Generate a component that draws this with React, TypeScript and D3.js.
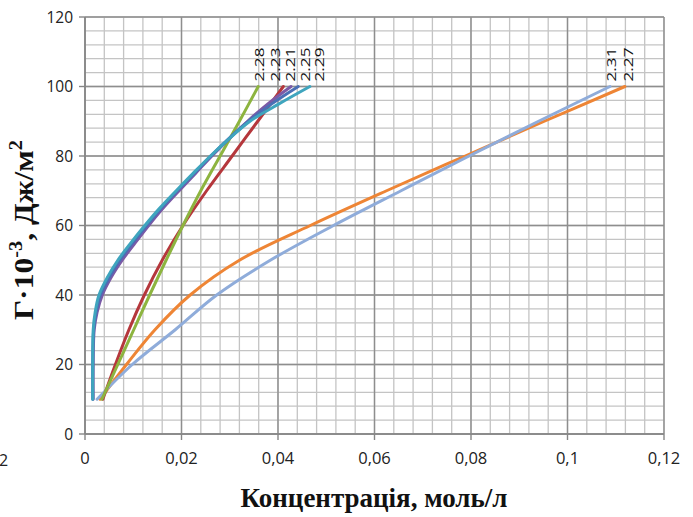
import React from 'react';
import * as d3 from 'd3';

// ---- data ----
const xTicks = [0, 0.02, 0.04, 0.06, 0.08, 0.1, 0.12];
const xTickLabels = ['0', '0,02', '0,04', '0,06', '0,08', '0,1', '0,12'];
const yTicks = [0, 20, 40, 60, 80, 100, 120];

const seriesNames = ['2.27', '2.31', '2.23', '2.28', '2.21', '2.25', '2.29'];

const gammaSteps = [10, 20, 30, 40, 50, 60, 70, 80, 90, 100];
const conc227 = [0.0031, 0.0086, 0.0145, 0.0218, 0.032, 0.0467, 0.0625, 0.0788, 0.0952, 0.1119];
const conc231 = [0.0025, 0.0098, 0.0187, 0.0273, 0.0384, 0.0515, 0.0655, 0.0796, 0.094, 0.1088];
const conc223 = [0.0037, 0.0063, 0.0091, 0.0123, 0.016, 0.0203, 0.0252, 0.0305, 0.0358, 0.0411];
const conc228 = [0.0035, 0.0068, 0.0101, 0.0134, 0.0168, 0.0203, 0.024, 0.028, 0.032, 0.0359];

const gammaFine = [10, 20, 30, 35, 40, 45, 50, 55, 60, 65, 70, 75, 80, 85, 90, 95, 100];
const conc221 = [0.0017, 0.0017, 0.0019, 0.0025, 0.0036, 0.0054, 0.0077, 0.0104, 0.0132, 0.0162, 0.0195, 0.0229, 0.0263, 0.0299, 0.0337, 0.0379, 0.0427];
const conc225 = [0.0016, 0.0016, 0.0018, 0.0023, 0.0032, 0.005, 0.0072, 0.0099, 0.0128, 0.0158, 0.0191, 0.0226, 0.0261, 0.0298, 0.0339, 0.0387, 0.0442];
const conc229 = [0.0016, 0.0016, 0.0017, 0.0021, 0.0029, 0.0046, 0.0068, 0.0095, 0.0124, 0.0155, 0.0189, 0.0224, 0.026, 0.0299, 0.0342, 0.0402, 0.0466];

const seriesX = [conc227, conc231, conc223, conc228, conc221, conc225, conc229];
const seriesY = [gammaSteps, gammaSteps, gammaSteps, gammaSteps, gammaFine, gammaFine, gammaFine];

// ---- styles ----
const seriesColors = ['#EE8535', '#8FACDA', '#B5373C', '#8DB43F', '#7B5AA6', '#4A6FB5', '#3FA5BE'];
const labelDx = [3, 1.5, -8, 0.5, -1, 7, 9];

const W = 693;
const H = 517;
const left = 85;
const right = 664;
const top = 17;
const bottom = 434;

export default function App() {
  const x = d3.scaleLinear().domain([0, 0.12]).range([left, right]);
  const y = d3.scaleLinear().domain([0, 120]).range([bottom, top]);

  const minorX = d3.range(0, 0.12 + 1e-9, 0.004);
  const minorY = d3.range(0, 120 + 1e-9, 4);

  const line = d3
    .line<[number, number]>()
    .x((d) => x(d[0]))
    .y((d) => y(d[1]))
    .curve(d3.curveCatmullRom.alpha(0.5));

  const tickFont = '"Open Sans", "DejaVu Sans", sans-serif';
  const titleFont = '"Liberation Serif", "Times New Roman", serif';

  return (
    <svg
      width={W}
      height={H}
      viewBox={`0 0 ${W} ${H}`}
      style={{ position: 'absolute', left: 0, top: 0, background: '#fff' }}
    >
      <rect x={0} y={0} width={W} height={H} fill="#fff" />
      {/* minor grid */}
      {minorX.map((v, i) => (
        <line key={'mx' + i} x1={x(v)} x2={x(v)} y1={top} y2={bottom} stroke="#c4c4c4" strokeWidth={1.3} />
      ))}
      {minorY.map((v, i) => (
        <line key={'my' + i} x1={left} x2={right} y1={y(v)} y2={y(v)} stroke="#c4c4c4" strokeWidth={1.3} />
      ))}
      {/* major grid */}
      {xTicks.map((v, i) => (
        <line key={'Mx' + i} x1={x(v)} x2={x(v)} y1={top} y2={bottom} stroke="#8e8e8e" strokeWidth={1.4} />
      ))}
      {yTicks.map((v, i) => (
        <line key={'My' + i} x1={left} x2={right} y1={y(v)} y2={y(v)} stroke="#8e8e8e" strokeWidth={1.4} />
      ))}
      {/* axes */}
      <line x1={left} x2={left} y1={top} y2={bottom} stroke="#868686" strokeWidth={1.6} />
      <line x1={left} x2={right} y1={bottom} y2={bottom} stroke="#868686" strokeWidth={1.6} />
      {yTicks.map((v, i) => (
        <line key={'yt' + i} x1={left - 6} x2={left} y1={y(v)} y2={y(v)} stroke="#868686" strokeWidth={1.4} />
      ))}
      {xTicks.map((v, i) => (
        <line key={'xt' + i} x1={x(v)} x2={x(v)} y1={bottom} y2={bottom + 6} stroke="#868686" strokeWidth={1.4} />
      ))}
      {/* tick labels */}
      {yTicks.map((v, i) => (
        <text
          key={'yl' + i}
          x={73}
          y={y(v)}
          dy="0.36em"
          textAnchor="end"
          fontFamily={tickFont}
          fontSize={15.5}
          fill="#222"
        >
          {String(v)}
        </text>
      ))}
      {xTicks.map((v, i) => (
        <text
          key={'xl' + i}
          x={x(v)}
          y={464}
          textAnchor="middle"
          fontFamily={tickFont}
          fontSize={16.5}
          fill="#222"
        >
          {xTickLabels[i]}
        </text>
      ))}
      {/* series */}
      {seriesX.map((xs, i) => {
        const pts: [number, number][] = xs.map((v, j) => [v, seriesY[i][j]]);
        return (
          <path
            key={'s' + i}
            d={line(pts) || ''}
            fill="none"
            stroke={seriesColors[i]}
            strokeWidth={3}
            strokeLinejoin="round"
            strokeLinecap="round"
          />
        );
      })}
      {/* end labels */}
      {seriesX.map((xs, i) => {
        const lx = x(xs[xs.length - 1]) + labelDx[i];
        const ly = y(seriesY[i][seriesY[i].length - 1]) - 5;
        return (
          <text
            key={'lab' + i}
            transform={`translate(${lx},${ly}) rotate(-90)`}
            dy="0.36em"
            textAnchor="start"
            fontFamily={tickFont}
            fontSize={13.5}
            textLength={34}
            lengthAdjust="spacingAndGlyphs"
            fill="#111"
          >
            {seriesNames[i]}
          </text>
        );
      })}
      {/* axis titles */}
      <text
        x={374}
        y={507}
        textAnchor="middle"
        fontFamily={titleFont}
        fontWeight="bold"
        fontSize={27}
        fill="#111"
      >
        Концентрація, моль/л
      </text>
      <text
        transform="translate(33,230) rotate(-90)"
        textAnchor="middle"
        fontFamily={titleFont}
        fontWeight="bold"
        fontSize={28}
        textLength={180}
        lengthAdjust="spacingAndGlyphs"
        fill="#111"
      >
        Г·10
        <tspan dy={-11} fontSize={18}>-3</tspan>
        <tspan dy={11}>, Дж/м</tspan>
        <tspan dy={-11} fontSize={18}>2</tspan>
      </text>
      <text x={-1} y={466} fontFamily={tickFont} fontSize={16} fill="#222">
        2
      </text>
    </svg>
  );
}
